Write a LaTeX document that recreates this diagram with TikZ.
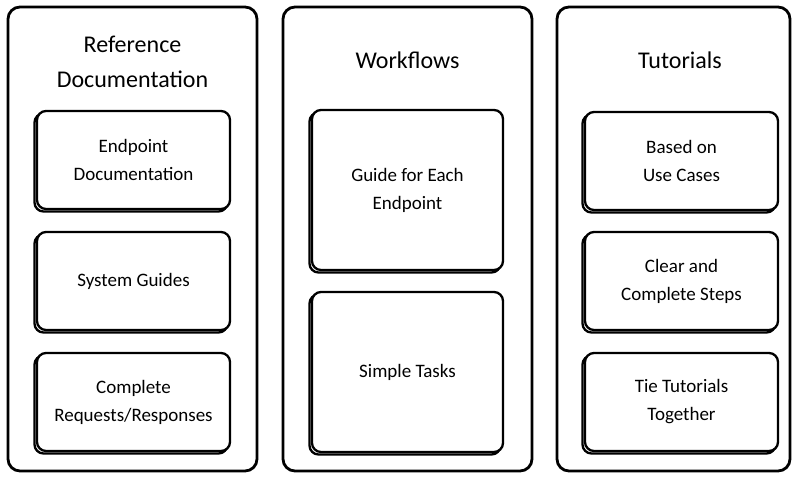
\documentclass[tikz,border=0pt]{standalone}
\usepackage{fontspec}
\setmainfont{Carlito}
\usetikzlibrary{shadows}

\begin{document}
\begin{tikzpicture}[
    x=1pt, y=-1pt,
    column/.style={rectangle, draw=black, line width=2.8pt, rounded corners=12pt, minimum width=249pt, minimum height=464pt},
    box/.style={rectangle, draw=black, fill=white, line width=2.3pt, rounded corners=9pt, minimum width=193pt, minimum height=98pt, align=center, font=\fontsize{19}{28}\selectfont, copy shadow={shadow xshift=-2.5pt, shadow yshift=-2.5pt, draw=black, line width=2.3pt}},
    heading/.style={align=center, font=\fontsize{24}{35}\selectfont}
]
\useasboundingbox (0,0) rectangle (793,477);
% columns
\node[column] (ref) at (132.5,239) {};
\node[column] (wf) at (407.5,239) {};
\node[column, minimum width=233pt] (tut) at (673.5,239) {};
\node[heading] (refh) at (132.5,62) {Reference\\Documentation};
\node[heading] (wfh) at (407.5,60) {Workflows};
\node[heading] (tuth) at (680,60) {Tutorials};
% reference documentation
\node[box] (ep) at (133.5,160) {Endpoint\\Documentation};
\node[box] (sg) at (133.5,281) {System Guides};
\node[box] (cr) at (133.5,402) {Complete\\Requests/Responses};
% workflows
\node[box, minimum width=191pt, minimum height=160pt] (ge) at (407.5,190) {Guide for Each\\Endpoint};
\node[box, minimum width=191pt, minimum height=160pt] (st) at (407.5,372) {Simple Tasks};
% tutorials
\node[box] (uc) at (681.5,161) {Based on\\Use Cases};
\node[box] (cs) at (681.5,281) {Clear and\\Complete Steps};
\node[box] (tt) at (681.5,402) {Tie Tutorials\\Together};
\end{tikzpicture}
\end{document}
